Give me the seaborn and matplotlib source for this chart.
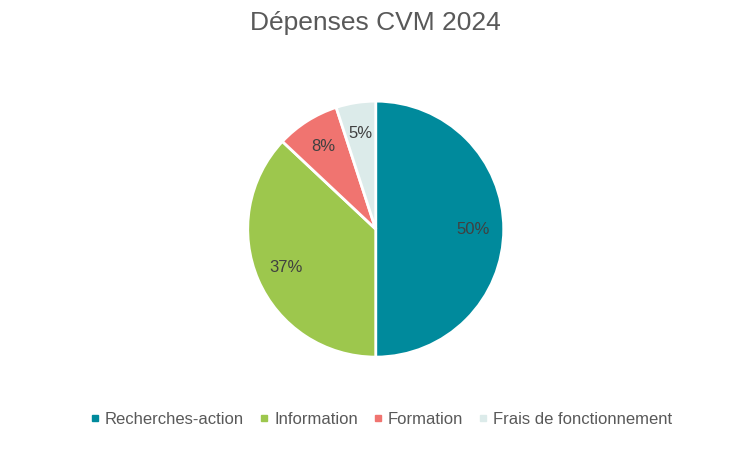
import matplotlib
matplotlib.use("Agg")
import matplotlib.pyplot as plt
import seaborn as sns
from matplotlib.lines import Line2D

categories = ["Recherches-action", "Information", "Formation", "Frais de fonctionnement"]
values = [50, 37, 8, 5]
colors = sns.color_palette(["#008A9C", "#9DC74D", "#F07470", "#DCEBEA"])

sns.set_theme(style="white", font="Liberation Sans")
fig = plt.figure(figsize=(7.5, 4.51), dpi=100)
ax = fig.add_axes([0.501 - 0.1707, 0.492 - 0.2838, 0.3413, 0.5676])
wedges, texts, autotexts = ax.pie(values, colors=colors, startangle=90, counterclock=False,
       autopct="%d%%", pctdistance=0.76,
       wedgeprops=dict(edgecolor="white", linewidth=2),
       textprops=dict(color="#404040", fontsize=12))
ax.set_aspect("equal")
ax.set_xlim(-1.0, 1.0)
ax.set_ylim(-1.0, 1.0)
fig.text(0.5, 0.95, "Dépenses CVM 2024", ha="center", va="center", fontsize=19, color="#595959")
handles = [Line2D([0], [0], marker="s", linestyle="", markersize=5, markerfacecolor=c,
                  markeredgecolor=c) for c in colors]
fig.legend(handles, categories, loc="center", bbox_to_anchor=(0.505, 0.07), ncol=4, frameon=False,
           fontsize=12, labelcolor="#595959", handletextpad=0.0, columnspacing=0.6,
           handlelength=1.2)
fig.savefig("out.png", dpi=100)
